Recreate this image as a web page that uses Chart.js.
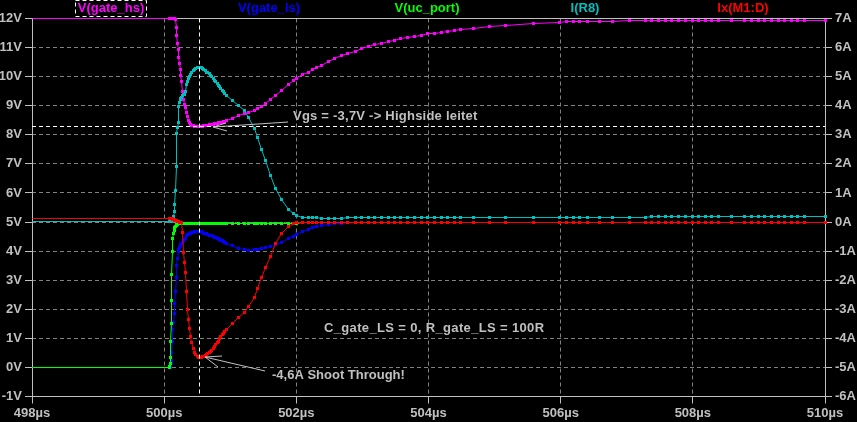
<!DOCTYPE html>
<html>
<head>
<meta charset="utf-8">
<style>
  html, body { margin: 0; padding: 0; background: #000; overflow: hidden; }
  canvas { display: block; }
</style>
<script src="https://cdn.jsdelivr.net/npm/chart.js@4/dist/chart.umd.min.js"></script>
</head>
<body>
<canvas id="plot" width="857" height="422"></canvas>
<script>
const timeUs = [
  498,
  500.08, 500.085, 500.09, 500.095, 500.1, 500.105, 500.11, 500.115, 500.12, 500.13, 500.14, 500.15, 500.16, 500.17, 500.18, 500.19, 500.2, 500.21, 500.22, 500.23, 500.24, 500.25, 500.26, 500.28, 500.3,
  500.31, 500.32, 500.335, 500.35, 500.365, 500.38, 500.4, 500.42, 500.44, 500.46, 500.48, 500.5, 500.52, 500.54, 500.56, 500.58, 500.6, 500.62, 500.64, 500.66, 500.68, 500.7, 500.72, 500.74, 500.76, 500.78, 500.8, 500.82, 500.84, 500.86, 500.88, 500.9, 500.92, 500.95,
  501.03, 501.13, 501.22, 501.28, 501.36, 501.41, 501.47, 501.53, 501.61, 501.69, 501.78, 501.88, 501.95,
  502, 502.1, 502.18, 502.25, 502.31, 502.38, 502.48, 502.58, 502.68, 502.78, 502.89, 502.99,
  503.09, 503.19, 503.29, 503.39, 503.48, 503.58, 503.68, 503.79, 503.89, 503.98,
  504.09, 504.19, 504.29, 504.39, 504.48, 504.68, 504.93,
  505.17, 505.59, 505.98,
  506.09, 506.19, 506.28, 506.4, 506.59, 506.79,
  507.04, 507.29, 507.38, 507.48, 507.59, 507.68, 507.78, 507.89,
  508, 508.09, 508.19, 508.28, 508.39, 508.59, 508.78, 508.89,
  509, 509.09, 509.19, 509.29, 509.39, 509.49, 509.58, 509.69,
  510,
];

const gateHs = [
  12,
  12, 12, 12, 12, 12, 12, 12, 12, 12, 12, 12, 12, 12, 11.95, 11.7, 11.4, 11.15, 10.93, 10.65, 10.45, 10.25, 10.05, 9.85, 9.5, 9.2,
  9.05, 8.95, 8.78, 8.62, 8.5, 8.42, 8.36, 8.33, 8.31, 8.29, 8.28, 8.28, 8.28, 8.29, 8.29, 8.3, 8.31, 8.31, 8.32, 8.33, 8.34, 8.35, 8.36, 8.37, 8.38, 8.39, 8.4, 8.41, 8.42, 8.43, 8.44, 8.45, 8.47, 8.49,
  8.56, 8.65, 8.72, 8.76, 8.84, 8.92, 8.99, 9.08, 9.22, 9.36, 9.54, 9.74, 9.86,
  9.93, 10.06, 10.16, 10.25, 10.32, 10.4, 10.52, 10.63, 10.72, 10.8, 10.88, 10.96,
  11.03, 11.09, 11.15, 11.2, 11.25, 11.3, 11.35, 11.39, 11.43, 11.47,
  11.5, 11.53, 11.56, 11.58, 11.61, 11.66, 11.72,
  11.77, 11.83, 11.87,
  11.88, 11.89, 11.9, 11.9, 11.91, 11.91,
  11.92, 11.92, 11.93, 11.93, 11.93, 11.93, 11.93, 11.93,
  11.93, 11.93, 11.93, 11.93, 11.93, 11.93, 11.93, 11.93,
  11.93, 11.93, 11.93, 11.93, 11.93, 11.93, 11.93, 11.93,
  11.93,
];

const gateLs = [
  0,
  0, 0, 0, 0.01, 0.05, 0.12, 0.25, 0.5, 0.9, 1.3, 1.55, 1.85, 2.2, 2.6, 3.1, 3.5, 3.75, 3.98, 4.05, 4.12, 4.18, 4.22, 4.26, 4.31, 4.36,
  4.4, 4.45, 4.52, 4.56, 4.58, 4.6, 4.62, 4.64, 4.65, 4.66, 4.67, 4.67, 4.67, 4.67, 4.66, 4.64, 4.62, 4.6, 4.59, 4.57, 4.55, 4.53, 4.52, 4.5, 4.48, 4.46, 4.44, 4.42, 4.39, 4.37, 4.35, 4.33, 4.3, 4.26,
  4.18, 4.08, 4.04, 4.03, 4.04, 4.05, 4.08, 4.12, 4.17, 4.23, 4.31, 4.43, 4.51,
  4.56, 4.68, 4.75, 4.8, 4.83, 4.87, 4.91, 4.94, 4.96, 4.97, 4.98, 4.98,
  4.98, 4.98, 4.98, 4.99, 4.99, 5, 5, 5, 5, 5,
  5, 5, 5, 5, 5, 5, 5,
  5, 5, 5,
  5, 5, 5, 5, 5, 5,
  5, 5, 5, 5, 5, 5, 5, 5,
  5, 5, 5, 5, 5, 5, 5, 5,
  5, 5, 5, 5, 5, 5, 5, 5,
  5,
];

const ucPort = [
  0,
  0, 0.04, 0.15, 0.35, 0.9, 1.5, 2.3, 3.2, 4, 4.45, 4.6, 4.72, 4.8, 4.85, 4.88, 4.9, 4.92, 4.94, 4.94, 4.95, 4.95, 4.95, 4.95, 4.95, 4.95,
  4.95, 4.95, 4.95, 4.95, 4.95, 4.95, 4.95, 4.95, 4.95, 4.95, 4.95, 4.95, 4.95, 4.95, 4.95, 4.95, 4.95, 4.95, 4.95, 4.95, 4.95, 4.95, 4.95, 4.95, 4.95, 4.95, 4.95, 4.95, 4.95, 4.95, 4.95, 4.95, 4.95, 4.95,
  4.95, 4.95, 4.95, 4.95, 4.95, 4.95, 4.95, 4.95, 4.95, 4.96, 4.96, 4.96, 4.96,
  4.96, 4.97, 4.98, 4.99, 5, 5, 5, 5, 5, 5, 5, 5,
  5, 5, 5, 5, 5, 5, 5, 5, 5, 5,
  5, 5, 5, 5, 5, 5, 5,
  5, 5, 5,
  5, 5, 5, 5, 5, 5,
  5, 5, 5, 5, 5, 5, 5, 5,
  5, 5, 5, 5, 5, 5, 5, 5,
  5, 5, 5, 5, 5, 5, 5, 5,
  5,
];

const currentR8 = [
  0.02,
  0.02, 0.02, 0.02, 0.02, 0.02, 0.02, 0.02, 0.03, 0.05, 0.1, 0.2, 0.35, 0.6, 1.1, 1.9, 3.06, 3.25, 3.41, 3.98, 4.1, 4.2, 4.26, 4.3, 4.35, 4.38,
  4.39, 4.5, 4.72, 4.82, 4.92, 5, 5.07, 5.14, 5.2, 5.25, 5.28, 5.3, 5.31, 5.31, 5.3, 5.28, 5.25, 5.2, 5.16, 5.13, 5.1, 5.05, 5, 4.95, 4.88, 4.82, 4.76, 4.71, 4.65, 4.6, 4.54, 4.49, 4.43, 4.34,
  4.18, 4, 3.82, 3.6, 3.2, 2.9, 2.5, 2.1, 1.6, 1.15, 0.77, 0.43, 0.28,
  0.22, 0.17, 0.16, 0.15, 0.15, 0.12, 0.12, 0.12, 0.12, 0.155, 0.155, 0.155,
  0.155, 0.155, 0.155, 0.155, 0.155, 0.155, 0.155, 0.155, 0.155, 0.155,
  0.155, 0.155, 0.155, 0.155, 0.155, 0.155, 0.155,
  0.155, 0.155, 0.155,
  0.155, 0.155, 0.155, 0.155, 0.155, 0.155,
  0.155, 0.155, 0.19, 0.19, 0.19, 0.19, 0.19, 0.19,
  0.19, 0.19, 0.19, 0.19, 0.19, 0.19, 0.19, 0.19,
  0.19, 0.19, 0.19, 0.19, 0.19, 0.19, 0.19, 0.19,
  0.19,
];

const currentM1 = [
  0.12,
  0.12, 0.12, 0.12, 0.13, 0.13, 0.13, 0.12, 0.12, 0.11, 0.1, 0.09, 0.08, 0.07, 0.06, 0.05, 0.04, 0.03, 0.02, 0.01, 0, -0.01, -0.02, -0.03, -0.35, -1.05,
  -1.4, -1.75, -2.4, -3.02, -3.35, -3.65, -3.92, -4.14, -4.34, -4.47, -4.57, -4.62, -4.65, -4.66, -4.66, -4.64, -4.62, -4.6, -4.57, -4.53, -4.49, -4.45, -4.41, -4.36, -4.28, -4.22, -4.16, -4.1, -4.02, -3.95, -3.88, -3.82, -3.76, -3.68,
  -3.5, -3.27, -3.11, -2.92, -2.58, -2.27, -1.92, -1.58, -1.2, -0.75, -0.41, -0.17, -0.06,
  -0.03, -0.015, -0.015, -0.015, -0.015, -0.015, -0.015, -0.015, -0.015, -0.015, -0.015, -0.015,
  -0.015, -0.015, -0.015, -0.015, -0.015, -0.015, -0.015, -0.015, -0.015, -0.015,
  -0.015, -0.015, -0.015, -0.015, -0.015, -0.015, -0.015,
  -0.015, -0.015, -0.015,
  -0.015, -0.015, -0.015, -0.015, -0.015, -0.015,
  -0.015, -0.015, -0.015, -0.015, -0.015, -0.015, -0.015, -0.015,
  -0.015, -0.015, -0.015, -0.015, -0.015, -0.015, -0.015, -0.015,
  -0.015, -0.015, -0.015, -0.015, -0.015, -0.015, -0.015, -0.015,
  -0.015,
];

const timeTicks = [498, 500, 502, 504, 506, 508, 510];
const timeLabels = ["498µs", "500µs", "502µs", "504µs", "506µs", "508µs", "510µs"];
const voltTicks = [-1, 0, 1, 2, 3, 4, 5, 6, 7, 8, 9, 10, 11, 12];
const voltLabels = ["-1V", "0V", "1V", "2V", "3V", "4V", "5V", "6V", "7V", "8V", "9V", "10V", "11V", "12V"];
const ampTicks = [-6, -5, -4, -3, -2, -1, 0, 1, 2, 3, 4, 5, 6, 7];
const ampLabels = ["-6A", "-5A", "-4A", "-3A", "-2A", "-1A", "0A", "1A", "2A", "3A", "4A", "5A", "6A", "7A"];

const cursorTime = 500.527;
const cursorVolts = 8.29;

const GRID = "#808080";
const FRAME = "#c0c0c0";
const TEXT = "#c0c0c0";
const FONT = "Liberation Sans";

function trace(values, color, axis, order) {
  return {
    data: values.map((v, i) => ({ x: timeUs[i], y: v })),
    yAxisID: axis,
    order: order,
    clip: false,
    borderColor: color,
    backgroundColor: color,
    borderWidth: 1,
    tension: 0,
    pointStyle: "rect",
    pointBorderWidth: 0,
    // no marker on the first sample at 498us
    pointRadius: (ctx) => (ctx.dataIndex === 0 ? 0 : 2.13),
  };
}

function tickAxis(position, ticks, labels, width, onArea) {
  return {
    type: "linear",
    position: position,
    min: ticks[0],
    max: ticks[ticks.length - 1],
    afterBuildTicks: (s) => { s.ticks = ticks.map((v) => ({ value: v })); },
    afterFit: (s) => {
      if (position === "bottom") s.height = width;
      else s.width = width;
    },
    grid: {
      drawOnChartArea: onArea,
      color: GRID,
      tickColor: FRAME,
      tickLength: 7,
      tickBorderDash: [],
      lineWidth: 1,
    },
    border: { display: false, dash: [4, 3] },
    ticks: {
      color: TEXT,
      autoSkip: false,
      maxRotation: 0,
      padding: position === "bottom" ? 2 : 3,
      font: { family: FONT, size: 13, weight: "bold" },
      callback: (v) => labels[ticks.indexOf(v)],
    },
  };
}

// snap the elements to pixel centres so lines and squares stay crisp
const snap = {
  id: "snap",
  beforeDatasetsDraw(chart) {
    chart.getSortedVisibleDatasetMetas().forEach((meta) => {
      meta.data.forEach((p) => {
        p.x = Math.floor(p.x) + 0.5;
        p.y = Math.floor(p.y) + 0.5;
      });
    });
  },
};

// frame goes under the traces
const frame = {
  id: "frame",
  beforeDatasetsDraw(chart) {
    const { ctx, chartArea: a } = chart;
    ctx.save();
    ctx.strokeStyle = FRAME;
    ctx.lineWidth = 1;
    ctx.strokeRect(a.left + 0.5, a.top, a.right - a.left, a.bottom - a.top);
    ctx.restore();
  },
};

// cursors, trace names and the hand placed notes
const overlay = {
  id: "overlay",
  afterDatasetsDraw(chart) {
    const { ctx, chartArea: a, scales } = chart;
    ctx.save();

    const cx = Math.round(scales.x.getPixelForValue(cursorTime)) + 0.5;
    const cy = Math.round(scales.yV.getPixelForValue(cursorVolts)) + 0.5;
    ctx.strokeStyle = "#ffffff";
    ctx.lineWidth = 1;
    ctx.setLineDash([4, 3]);
    ctx.beginPath();
    ctx.moveTo(cx, a.top);
    ctx.lineTo(cx, a.bottom);
    ctx.moveTo(a.left, cy);
    ctx.lineTo(a.right, cy);
    ctx.stroke();

    ctx.strokeRect(75.5, 0.5, 71, 16);
    ctx.setLineDash([]);

    ctx.textBaseline = "middle";
    ctx.textAlign = "center";
    ctx.font = "bold 13px " + FONT;
    [
      ["V(gate_hs)", 111, "#ff00ff"],
      ["V(gate_ls)", 269, "#0000ff"],
      ["V(uc_port)", 427, "#00ff00"],
      ["I(R8)", 585, "#00bfbf"],
      ["Ix(M1:D)", 743, "#ff0000"],
    ].forEach(([name, x, color]) => {
      ctx.fillStyle = color;
      ctx.fillText(name, x, 8);
    });

    ctx.textAlign = "left";
    ctx.fillStyle = TEXT;
    ctx.letterSpacing = "0.23px";
    ctx.fillText("Vgs = -3,7V -> Highside leitet", 293, 116);
    ctx.letterSpacing = "0.35px";
    ctx.fillText("C_gate_LS = 0, R_gate_LS = 100R", 324, 328);
    ctx.letterSpacing = "0px";
    ctx.fillText("-4,6A Shoot Through!", 272, 375);

    ctx.strokeStyle = TEXT;
    ctx.beginPath();
    ctx.moveTo(288, 122); ctx.lineTo(213, 127);
    ctx.lineTo(227, 131);
    ctx.moveTo(213, 127); ctx.lineTo(226, 123);
    ctx.moveTo(265, 371); ctx.lineTo(205, 357);
    ctx.lineTo(222, 356);
    ctx.moveTo(205, 357); ctx.lineTo(218, 367);
    ctx.stroke();

    ctx.restore();
  },
};

new Chart(document.getElementById("plot"), {
  type: "line",
  data: {
    datasets: [
      trace(gateHs, "#ff00ff", "yV", 5),
      trace(gateLs, "#0000ff", "yV", 4),
      trace(ucPort, "#00ff00", "yV", 3),
      trace(currentR8, "#00bfbf", "yA", 2),
      trace(currentM1, "#ff0000", "yA", 1),
    ],
  },
  options: {
    responsive: false,
    animation: false,
    devicePixelRatio: 1,
    layout: { padding: { top: 18.5, left: 0, right: 0, bottom: 0 } },
    plugins: {
      legend: { display: false },
      tooltip: { enabled: false },
    },
    scales: {
      x: tickAxis("bottom", timeTicks, timeLabels, 25.5, true),
      yV: tickAxis("left", voltTicks, voltLabels, 32, true),
      yA: tickAxis("right", ampTicks, ampLabels, 32, false),
    },
  },
  plugins: [snap, frame, overlay],
});
</script>
</body>
</html>
